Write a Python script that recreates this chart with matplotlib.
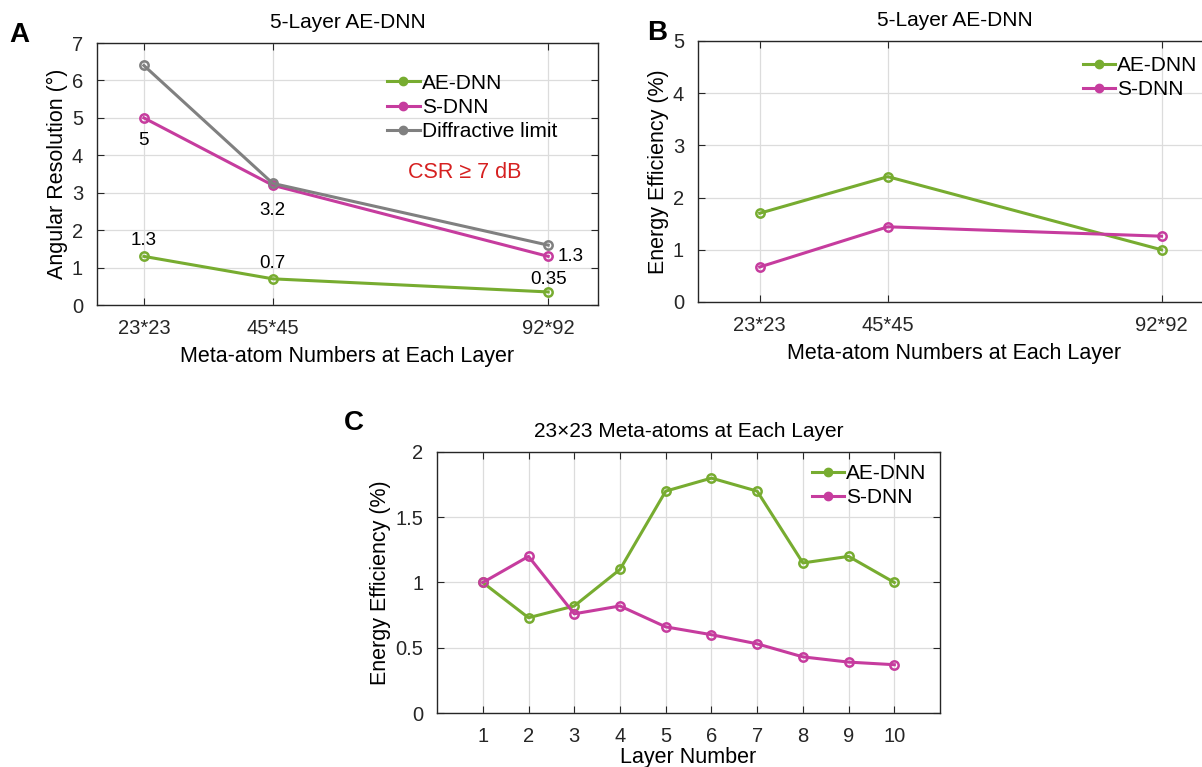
import matplotlib
matplotlib.use("Agg")
import matplotlib.pyplot as plt
from matplotlib.lines import Line2D

plt.rcParams['font.family'] = ['Liberation Sans', 'DejaVu Sans']

# panel A / B data
meta_sizes = [23, 45, 92]
meta_labels = ['23*23', '45*45', '92*92']
res_ae = [1.3, 0.7, 0.35]
res_s = [5.0, 3.2, 1.3]
res_diff = [6.4, 3.25, 1.6]
eff_ae = [1.7, 2.4, 1.0]
eff_s = [0.67, 1.44, 1.26]

# panel C data
layers = [1, 2, 3, 4, 5, 6, 7, 8, 9, 10]
layer_ae = [1.0, 0.73, 0.82, 1.1, 1.7, 1.8, 1.7, 1.15, 1.2, 1.0]
layer_s = [1.0, 1.2, 0.76, 0.82, 0.66, 0.60, 0.53, 0.43, 0.39, 0.37]

GREEN = '#77AC30'
MAGENTA = '#C63C9E'
GRAY = '#808080'
DARK = '#262626'


def style_axes(ax):
    ax.grid(True, color='#dcdcdc', linewidth=0.9)
    ax.set_axisbelow(True)
    for s in ax.spines.values():
        s.set_color(DARK)
        s.set_linewidth(1.0)
    ax.tick_params(direction='in', top=True, right=True, length=5,
                   labelsize=14.5, colors=DARK, labelcolor=DARK, pad=10)


def plot_line(ax, x, y, color):
    ax.plot(x, y, '-o', color=color, lw=2.2, ms=6, mfc='none', mew=1.8)


def add_legend(ax, colors, labels, anchor):
    handles = [Line2D([], [], color=c, lw=2.2, marker='o', ms=6, mfc=c, mec=c)
               for c in colors]
    ax.legend(handles, labels, loc='upper right', bbox_to_anchor=anchor,
              frameon=False, fontsize=15, handlelength=1.55,
              handletextpad=0.1, labelspacing=0.25, borderaxespad=0)


fig = plt.figure(figsize=(12.02, 7.67), dpi=100)

# ---- A ----
axA = fig.add_axes([0.0807, 0.6023, 0.4168, 0.3416])
plot_line(axA, meta_sizes, res_ae, GREEN)
plot_line(axA, meta_sizes, res_s, MAGENTA)
plot_line(axA, meta_sizes, res_diff, GRAY)
axA.set_xlim(15, 100.5)
axA.set_ylim(0, 7)
axA.set_xticks(meta_sizes)
axA.set_xticklabels(meta_labels)
axA.set_yticks(range(0, 8))
style_axes(axA)
axA.set_title('5-Layer AE-DNN', fontsize=15, pad=11)
axA.set_xlabel('Meta-atom Numbers at Each Layer', fontsize=15.5, labelpad=6)
axA.set_ylabel('Angular Resolution (°)', fontsize=15.5, labelpad=3)
add_legend(axA, [GREEN, MAGENTA, GRAY], ['AE-DNN', 'S-DNN', 'Diffractive limit'],
           (0.935, 0.915))
axA.text(77.8, 3.53, 'CSR ≥ 7 dB', color='#D62020', fontsize=15.5,
         ha='center', va='center')
axA.annotate('1.3', (23, 1.3), xytext=(0, 5), textcoords='offset points',
             ha='center', va='bottom', fontsize=13.5)
axA.annotate('5', (23, 5.0), xytext=(0, -10), textcoords='offset points',
             ha='center', va='top', fontsize=13.5)
axA.annotate('0.7', (45, 0.7), xytext=(0, 5), textcoords='offset points',
             ha='center', va='bottom', fontsize=13.5)
axA.annotate('3.2', (45, 3.2), xytext=(0, -12), textcoords='offset points',
             ha='center', va='top', fontsize=13.5)
axA.annotate('1.3', (92, 1.3), xytext=(7, 0), textcoords='offset points',
             ha='left', va='center', fontsize=13.5)
axA.annotate('0.35', (92, 0.35), xytext=(0, 3), textcoords='offset points',
             ha='center', va='bottom', fontsize=13.5)

# ---- B ----
axB = fig.add_axes([0.5807, 0.6063, 0.4268, 0.3403])
plot_line(axB, meta_sizes, eff_ae, GREEN)
plot_line(axB, meta_sizes, eff_s, MAGENTA)
axB.set_xlim(12.4, 100.5)
axB.set_ylim(0, 5)
axB.set_xticks(meta_sizes)
axB.set_xticklabels(meta_labels)
axB.set_yticks(range(0, 6))
style_axes(axB)
axB.set_title('5-Layer AE-DNN', fontsize=15, pad=11)
axB.set_xlabel('Meta-atom Numbers at Each Layer', fontsize=15.5, labelpad=6)
axB.set_ylabel('Energy Efficiency (%)', fontsize=15.5, labelpad=3)
add_legend(axB, [GREEN, MAGENTA], ['AE-DNN', 'S-DNN'], (0.99, 0.975))

# ---- C ----
axC = fig.add_axes([0.3636, 0.0704, 0.4185, 0.3403])
plot_line(axC, layers, layer_ae, GREEN)
plot_line(axC, layers, layer_s, MAGENTA)
axC.set_xlim(0, 11)
axC.set_ylim(0, 2)
axC.set_xticks(layers)
axC.set_yticks([0, 0.5, 1, 1.5, 2])
axC.set_yticklabels(['0', '0.5', '1', '1.5', '2'])
style_axes(axC)
axC.set_title('23×23 Meta-atoms at Each Layer', fontsize=15, pad=11)
axC.set_xlabel('Layer Number', fontsize=15.5, labelpad=1)
axC.set_ylabel('Energy Efficiency (%)', fontsize=15.5, labelpad=3)
add_legend(axC, [GREEN, MAGENTA], ['AE-DNN', 'S-DNN'], (0.99, 0.985))

# panel letters
fig.text(0.008, 0.955, 'A', fontsize=20, fontweight='bold', va='center')
fig.text(0.538, 0.957, 'B', fontsize=20, fontweight='bold', va='center')
fig.text(0.286, 0.449, 'C', fontsize=20, fontweight='bold', va='center')

fig.savefig('out.png', dpi=100)
